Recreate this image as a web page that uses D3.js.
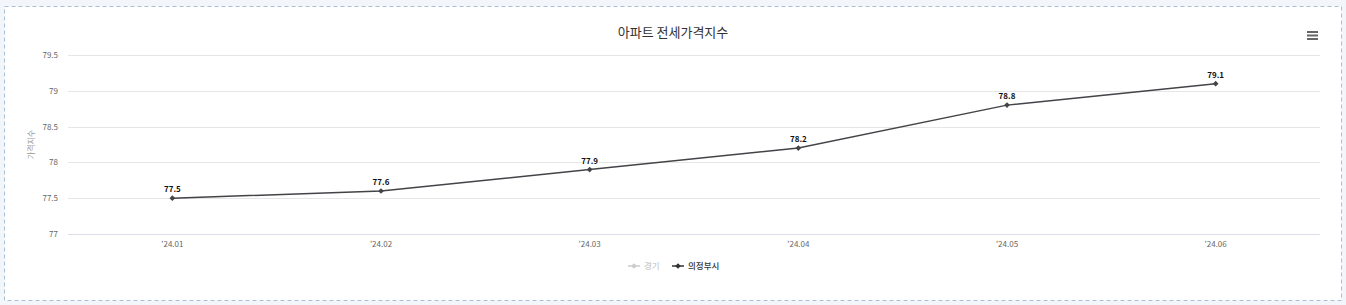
<!DOCTYPE html>
<html>
<head>
    <meta charset="utf-8">
    <script src="https://d3js.org/d3.v7.min.js"></script>
    <style>
        html, body { margin: 0; padding: 0; background: #f2f6fa; }
        text { font-family: "Noto Sans CJK KR", "Noto Sans", sans-serif; }
        .grid line { stroke: #e6e6e6; stroke-width: 1; }
        .tick-label { font-size: 8px; fill: #666; }
    </style>
</head>
<body>
<div id="chart"></div>
<script>
    // 데이터
    const categories = ["'24.01", "'24.02", "'24.03", "'24.04", "'24.05", "'24.06"];
    const seriesNames = ["경기", "의정부시"];
    const values = [77.5, 77.6, 77.9, 78.2, 78.8, 79.1];
    const yTicks = [77, 77.5, 78, 78.5, 79, 79.5];

    const width = 1346, height = 305;
    const margin = { left: 68, right: 26, top: 55, bottom: 71 };

    const svg = d3.select("#chart").append("svg")
        .attr("width", width)
        .attr("height", height)
        .style("display", "block");

    // 배경 + 점선 테두리
    svg.append("rect")
        .attr("x", 4.5).attr("y", 6.5)
        .attr("width", 1337).attr("height", 294)
        .attr("fill", "#fff")
        .attr("stroke", "#a9bfd3")
        .attr("stroke-dasharray", "4,3");

    const x = d3.scaleBand()
        .domain(categories)
        .range([margin.left, width - margin.right]);

    const y = d3.scaleLinear()
        .domain([77, 79.5])
        .range([height - margin.bottom, margin.top]);

    // 그리드
    svg.append("g").attr("class", "grid")
        .selectAll("line")
        .data(yTicks)
        .join("line")
        .attr("x1", margin.left)
        .attr("x2", width - margin.right)
        .attr("y1", d => Math.round(y(d)) + 0.5)
        .attr("y2", d => Math.round(y(d)) + 0.5);

    // x축 기준선
    svg.append("line")
        .attr("x1", margin.left).attr("x2", width - margin.right)
        .attr("y1", Math.round(y(77)) + 0.5).attr("y2", Math.round(y(77)) + 0.5)
        .attr("stroke", "#dcdcea");

    // y축 라벨
    svg.append("g").selectAll("text")
        .data(yTicks)
        .join("text")
        .attr("class", "tick-label")
        .attr("x", 58)
        .attr("y", d => y(d) + 3)
        .attr("text-anchor", "end")
        .text(d => d);

    // x축 라벨
    svg.append("g").selectAll("text")
        .data(categories)
        .join("text")
        .attr("class", "tick-label")
        .attr("x", d => x(d) + x.bandwidth() / 2)
        .attr("y", height - margin.bottom + 13)
        .attr("text-anchor", "middle")
        .text(d => d);

    // 제목
    svg.append("text")
        .attr("x", width / 2)
        .attr("y", 37)
        .attr("text-anchor", "middle")
        .style("font-size", "13px")
        .style("fill", "#333")
        .text("아파트 전세가격지수");

    // y축 제목
    svg.append("text")
        .attr("transform", `translate(34, ${(margin.top + height - margin.bottom) / 2}) rotate(-90)`)
        .attr("text-anchor", "middle")
        .style("font-size", "8px")
        .style("fill", "#999")
        .text("가격지수");

    // 메뉴 아이콘
    const menu = svg.append("g").attr("transform", "translate(1307, 31)");
    [0, 3.5, 7].forEach(dy => {
        menu.append("rect")
            .attr("x", 0).attr("y", dy)
            .attr("width", 11).attr("height", 2)
            .attr("fill", "#666");
    });

    // 선
    const cx = d => x(d) + x.bandwidth() / 2;
    const line = d3.line()
        .x((d, i) => cx(categories[i]))
        .y(d => y(d));

    svg.append("path")
        .datum(values)
        .attr("fill", "none")
        .attr("stroke", "#434348")
        .attr("stroke-width", 1.5)
        .attr("d", line);

    const diamond = d3.symbol().type(d3.symbolSquare).size(16);

    svg.append("g").selectAll("path")
        .data(values)
        .join("path")
        .attr("transform", (d, i) => `translate(${cx(categories[i])}, ${y(d)}) rotate(45)`)
        .attr("d", diamond)
        .attr("fill", "#434348");

    // 데이터 라벨
    svg.append("g").selectAll("text")
        .data(values)
        .join("text")
        .attr("x", (d, i) => cx(categories[i]))
        .attr("y", d => y(d) - 6)
        .attr("text-anchor", "middle")
        .style("font-size", "8px")
        .style("font-weight", "bold")
        .style("fill", "#111")
        .style("paint-order", "stroke")
        .style("stroke", "#fff")
        .style("stroke-width", 2)
        .text(d => d);

    // 범례
    const legendColors = ["#cccccc", "#333333"];
    const legendX = [628, 672];
    seriesNames.forEach((name, i) => {
        const g = svg.append("g").attr("transform", `translate(${legendX[i]}, 266)`);
        g.append("line")
            .attr("x1", 0).attr("x2", 12)
            .attr("stroke", legendColors[i]).attr("stroke-width", 1.5);
        g.append("path")
            .attr("transform", "translate(6,0) rotate(45)")
            .attr("d", diamond)
            .attr("fill", legendColors[i]);
        g.append("text")
            .attr("x", 16).attr("y", 3)
            .style("font-size", "8.5px")
            .style("font-weight", "500")
            .style("fill", legendColors[i])
            .text(name);
    });
</script>
</body>
</html>
